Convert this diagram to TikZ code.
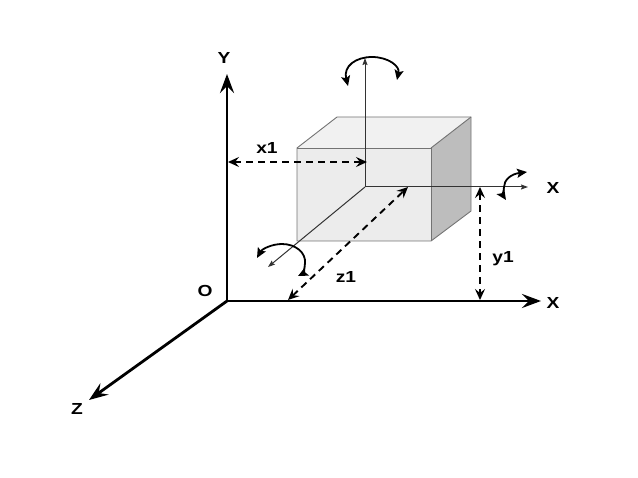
\documentclass[tikz,border=0pt]{standalone}
\usepackage{fontspec}
\setmainfont{Liberation Sans}[FakeStretch=1.2]
\usetikzlibrary{arrows.meta,calc}
\tikzset{>={Stealth[length=11pt,width=10pt,inset=4pt]}}
\tikzset{axis/.style={line width=2.8pt,draw=black,-{Stealth[length=19pt,width=14pt,inset=7pt]}}}
\tikzset{thin axis/.style={line width=1pt,draw=black!80,-{Stealth[length=7pt,width=5pt,inset=1pt]}}}
\tikzset{measure/.style={line width=1.9pt,draw=black,dash pattern=on 7pt off 5pt,<->}}
\tikzset{turn/.style={line width=1.8pt,draw=black,{Stealth[length=10pt,width=9pt,inset=2pt]}-{Stealth[length=10pt,width=9pt,inset=2pt]}}}
\tikzset{edge/.style={draw=black!55,line width=0.9pt}}
\tikzset{lab/.style={font=\bfseries\fontsize{16}{18}\selectfont,text=black,inner sep=0pt}}
\definecolor{frontgray}{gray}{0.925}
\definecolor{topgray}{gray}{0.945}
\definecolor{sidegray}{gray}{0.74}

\begin{document}
\begin{tikzpicture}[x=1pt,y=-1pt]
  \useasboundingbox (0,0) rectangle (638,478);
  % Corners of the box
  \coordinate (fa) at (297,148);
  \coordinate (fb) at (431,148);
  \coordinate (fc) at (431,241);
  \coordinate (fd) at (297,241);
  \coordinate (ba) at (337,117);
  \coordinate (bb) at (471,117);
  \coordinate (bc) at (471,211);
  \coordinate (centre) at (365,187);
  % Box faces
  \fill[frontgray] (fa) -- (fb) -- (fc) -- (fd) -- cycle;
  \fill[topgray] (fa) -- (ba) -- (bb) -- (fb) -- cycle;
  \fill[sidegray] (fb) -- (bb) -- (bc) -- (fc) -- cycle;
  \draw[edge] (fa) -- (ba) -- (bb) -- (bc) -- (fc) -- (fd) -- cycle;
  \draw[edge] (fa) -- (fb) -- (fc);
  \draw[edge] (fb) -- (bb);
  % Main axes
  \coordinate (origin) at (227,301);
  \coordinate (ytip) at (227,74);
  \coordinate (xtip) at (541,301);
  \coordinate (ztip) at (89,400);
  \draw[axis] (origin) -- (ytip);
  \draw[axis] (origin) -- (xtip);
  \draw[axis] (origin) -- (ztip);
  % Box axes
  \coordinate (ytop) at (365,58);
  \coordinate (xend) at (528,187);
  \coordinate (zend) at (268,267);
  \draw[thin axis] (centre) -- (ytop);
  \draw[thin axis] (centre) -- (xend);
  \draw[thin axis] (centre) -- (zend);
  % Distances
  \coordinate (xa) at (228,162);
  \coordinate (xb) at (367,162);
  \coordinate (ya) at (480,187);
  \coordinate (yb) at (480,300);
  \coordinate (za) at (288,300);
  \coordinate (zb) at (408,187);
  \draw[measure] (xa) -- (xb);
  \draw[measure] (ya) -- (yb);
  \draw[measure] (za) -- (zb);
  % Rotations
  \coordinate (ra) at (348,86);
  \coordinate (rb) at (397,80);
  \coordinate (rc) at (527,172);
  \coordinate (rd) at (506,200);
  \coordinate (re) at (257,258);
  \coordinate (rf) at (298,276);
  \draw[turn] (ra) .. controls (343,66) and (356,57) .. (372,57) .. controls (388,57) and (400,66) .. (rb);
  \draw[turn] (rc) .. controls (511,174) and (504,180) .. (504,187) .. controls (503,193) and (504,197) .. (rd);
  \draw[turn] (re) .. controls (262,249) and (272,244) .. (282,244) .. controls (296,244) and (306,253) .. (305,263) .. controls (305,269) and (302,274) .. (rf);
  % Labels
  \node[lab] (ylab) at (224,58) {Y};
  \node[lab] (x1lab) at (267,148) {x1};
  \node[lab] (olab) at (205,291) {O};
  \node[lab] (xalab) at (553,188) {X};
  \node[lab] (xblab) at (553,303) {X};
  \node[lab] (y1lab) at (503,259) {y1};
  \node[lab] (z1lab) at (346,277) {z1};
  \node[lab] (zlab) at (77,409) {Z};
\end{tikzpicture}
\end{document}
